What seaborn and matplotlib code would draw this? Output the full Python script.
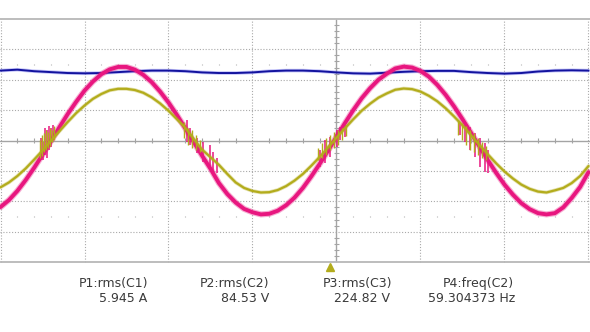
import numpy as np
import pandas as pd
import matplotlib
matplotlib.use("Agg")
import matplotlib.pyplot as plt
import seaborn as sns

# Horizontal scale: 5 ms/div, trigger at t = 0. Vertical values in screen divisions.
t_ms = np.arange(-20.0, 15.0 + 1e-9, 0.5)        # trace sample times
t_ripple_ms = np.arange(-20.0, 15.0 + 1e-9, 1.0)  # sample times of the flat trace

magenta_div = [-2.19, -1.96, -1.66, -1.30, -0.90, -0.47, -0.02, 0.43, 0.87, 1.27,
               1.64, 1.94, 2.18, 2.34, 2.42, 2.42, 2.33, 2.16, 1.92, 1.61,
               1.25, 0.84, 0.40, -0.05, -0.50, -0.93, -1.40, -1.76, -2.04, -2.25,
               -2.36, -2.43, -2.41, -2.31, -2.13, -1.88, -1.56, -1.18, -0.77, -0.33,
               0.12, 0.57, 1.00, 1.39, 1.72, 2.00, 2.20, 2.37, 2.43, 2.40,
               2.29, 2.10, 1.83, 1.50, 1.12, 0.70, 0.26, -0.19, -0.64, -1.06,
               -1.45, -1.78, -2.06, -2.26, -2.39, -2.43, -2.39, -2.20, -1.89, -1.53, -1.04]

olive_div = [-1.54, -1.38, -1.17, -0.92, -0.63, -0.33, -0.01, 0.30, 0.61, 0.90,
             1.15, 1.37, 1.53, 1.65, 1.70, 1.70, 1.66, 1.57,
             1.42, 1.22, 0.98, 0.70, 0.42, 0.05, -0.30, -0.55, -0.80, -1.10, -1.38, -1.56,
             -1.66, -1.71, -1.70, -1.63, -1.50, -1.32, -1.10, -0.83, -0.54, -0.23,
             0.09, 0.40, 0.70, 0.98, 1.21, 1.41, 1.55, 1.67, 1.71, 1.69,
             1.61, 1.47, 1.29, 1.06, 0.79, 0.50, 0.18, -0.14, -0.45, -0.75,
             -1.02, -1.25, -1.45, -1.59, -1.68, -1.71,
             -1.64, -1.56, -1.40, -1.17, -0.84]

blue_div = [2.30, 2.33, 2.28, 2.25, 2.22, 2.21, 2.22, 2.25, 2.28, 2.30,
            2.30, 2.28, 2.24, 2.22, 2.22, 2.24, 2.28, 2.30, 2.30, 2.28,
            2.24, 2.21, 2.20, 2.23, 2.26, 2.28, 2.29, 2.29, 2.25, 2.22,
            2.20, 2.22, 2.27, 2.30, 2.31, 2.30]

# Switching bursts around the zero crossings: time (ms), lower and upper excursion (div)
magenta_burst_t = [-17.59, -17.47, -17.35, -17.23, -17.11, -16.99, -16.88,
                   -8.90, -8.72, -8.30, -7.95, -7.53, -7.35, -7.11,
                   -0.98, -0.68, -0.39, 0.03, 0.21, 0.51,
                   7.35, 7.65, 7.95, 8.24, 8.54, 8.84, 9.02]
magenta_burst_lo = [-0.64, -0.64, -0.48, -0.58, -0.31, -0.21, 0.02,
                    -0.05, -0.15, -0.41, -0.71, -0.87, -1.13, -1.07,
                    -0.87, -0.74, -0.54, -0.21, 0.02, 0.12,
                    0.18, -0.05, -0.31, -0.54, -0.87, -1.04, -1.07]
magenta_burst_hi = [0.08, -0.05, 0.41, 0.35, 0.48, 0.41, 0.51,
                    0.67, 0.41, 0.08, -0.05, -0.15, -0.38, -0.58,
                    -0.31, 0.02, 0.12, 0.35, 0.44, 0.58,
                    0.61, 0.58, 0.44, 0.25, 0.08, -0.08, -0.31]

olive_burst_t = [-17.65, -17.53, -17.41, -17.29, -17.17, -17.05, -16.93, -16.82,
                 -9.08, -8.84, -8.60, -8.36, -8.13,
                 -1.10, -0.86, -0.63, -0.39, -0.15, 0.09, 0.33, 0.57,
                 7.23, 7.47, 7.71, 7.95, 8.18, 8.42, 8.66, 8.90]
olive_burst_lo = [-0.58, -0.51, -0.38, -0.31, -0.25, -0.18, -0.05, 0.02,
                  0.08, -0.15, -0.25, -0.31, -0.38,
                  -0.64, -0.58, -0.48, -0.31, -0.25, -0.15, 0.02, 0.15,
                  0.18, 0.02, -0.15, -0.31, -0.38, -0.48, -0.58, -0.64]
olive_burst_hi = [0.02, 0.18, 0.25, 0.35, 0.28, 0.41, 0.35, 0.48,
                  0.61, 0.41, 0.35, 0.18, 0.02,
                  -0.25, -0.08, 0.08, 0.18, 0.28, 0.35, 0.41, 0.51,
                  0.67, 0.58, 0.48, 0.35, 0.25, 0.08, -0.05, -0.18]

param_names = ["P1:rms(C1)", "P2:rms(C2)", "P3:rms(C3)", "P4:freq(C2)"]
param_values = ["5.945 A", "84.53 V", "224.82 V", "59.304373 Hz"]

trigger_ms = -0.39

BLUE = "#12129e"
MAGENTA = "#e8167f"
OLIVE = "#b3ac1c"
GRID = "#a9a9a9"

sns.set_style("white")
plt.rcParams["font.family"] = ["DejaVu Sans"]

W, H = 590, 332
fig = plt.figure(figsize=(W / 100, H / 100), dpi=100)
ax = fig.add_axes([0, 0, 1, 1])
ax.set_xlim(-20.03, 15.09)
ax.set_ylim(-6.299, 4.622)
ax.axis("off")

# graticule
dots = (0, (1, 1.6))
for x in range(-20, 16, 5):
    if x != 0:
        ax.vlines(x, -4, 4, color=GRID, lw=0.8, linestyle=dots, zorder=1)
for y in range(-3, 4):
    if y != 0:
        ax.axhline(y, color=GRID, lw=0.8, linestyle=dots, zorder=1)
ax.axhline(0, color="#a4a4a4", lw=1.0, zorder=1)
ax.vlines(0, -4, 4, color="#a4a4a4", lw=1.0, zorder=1)
ax.axhline(4, color="#b8b8b8", lw=1.3, zorder=1)
ax.axhline(-4, color="#b8b8b8", lw=1.3, zorder=1)

minor_t = [m for m in range(-20, 16) if m % 5 != 0]
ax.vlines(minor_t, -0.08, 0.08, color="#a4a4a4", lw=0.8, zorder=1)
for row in (2.5, -2.5):
    ax.vlines(minor_t, row - 0.03, row + 0.03, color="#b0b0b0", lw=0.8, zorder=1)
minor_v = [v / 5 for v in range(-20, 21) if v % 5 != 0]
ax.hlines(minor_v, -0.12, 0.12, color="#a4a4a4", lw=0.8, zorder=1)

# traces: a soft halo under each line gives the grainy width of the sampled signal
sns.lineplot(x=t_ripple_ms, y=blue_div, ax=ax, color="#5a5af0", lw=2.6, alpha=0.35,
             estimator=None, sort=False, zorder=3)
sns.lineplot(x=t_ripple_ms, y=blue_div, ax=ax, color=BLUE, lw=1.4,
             estimator=None, sort=False, zorder=3)

sns.lineplot(x=t_ms, y=magenta_div, ax=ax, color=MAGENTA, lw=4.4, alpha=0.35,
             estimator=None, sort=False, zorder=4)
sns.lineplot(x=t_ms, y=magenta_div, ax=ax, color=MAGENTA, lw=2.8,
             estimator=None, sort=False, zorder=4)
ax.vlines(magenta_burst_t, magenta_burst_lo, magenta_burst_hi, color=MAGENTA, lw=1.1, zorder=4)

sns.lineplot(x=t_ms, y=olive_div, ax=ax, color=OLIVE, lw=2.7, alpha=0.35,
             estimator=None, sort=False, zorder=5)
sns.lineplot(x=t_ms, y=olive_div, ax=ax, color=OLIVE, lw=1.6,
             estimator=None, sort=False, zorder=5)
ax.vlines(olive_burst_t, olive_burst_lo, olive_burst_hi, color=OLIVE, lw=1.0, zorder=5)

# trigger position marker
ax.plot([trigger_ms], [-4.16], marker="^", color=OLIVE, ms=5.5, zorder=6)

# measurement readout
name_right = [148, 269, 392, 514]
value_right = [147, 269, 390, 515]
for name, val, xr1, xr2 in zip(param_names, param_values, name_right, value_right):
    fig.text(xr1 / W, 1 - 283 / H, name, ha="right", va="center",
             fontsize=9.0, color="#3a3a3a")
    fig.text(xr2 / W, 1 - 299 / H, val, ha="right", va="center",
             fontsize=9.0, color="#3a3a3a")

fig.savefig("out.png", dpi=100, facecolor="white")
